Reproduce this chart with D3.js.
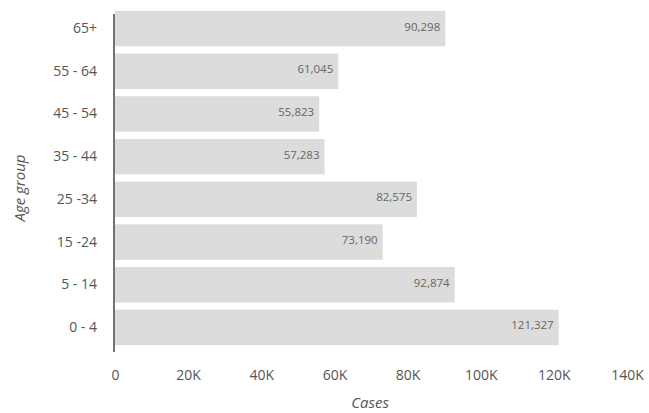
<!DOCTYPE html>
<html>
<head>
<meta charset="utf-8">
<script src="https://cdn.jsdelivr.net/npm/d3@7"></script>
<style>
  body { margin: 0; background: #fff; }
  text { font-family: "Open Sans", "Lato", sans-serif; fill: #555; }
</style>
</head>
<body>
<div id="chart-area"></div>
<script>
// --- Data ---
var ageGroups = ["65+", "55 - 64", "45 - 54", "35 - 44", "25 -34", "15 -24", "5 - 14", "0 - 4"];
var cases = [90298, 61045, 55823, 57283, 82575, 73190, 92874, 121327];
var xTicks = [0, 20000, 40000, 60000, 80000, 100000, 120000, 140000];

var data = ageGroups.map((g, i) => { return {group: g, cases: cases[i]}; });

// --- Canvas ---
var canvasWidth = 649;
var canvasHeight = 413;
var margins = {top: 10, bottom: 67, left: 115, right: 22};
var graphWidth = canvasWidth - margins.left - margins.right;
var graphHeight = canvasHeight - margins.top - margins.bottom;

var canvas = d3.select("#chart-area").append("svg")
	.attr("width", canvasWidth)
	.attr("height", canvasHeight);

var graph = canvas.append("g")
	.attr("transform", "translate(" + margins.left + "," + margins.top + ")");

// --- Scales ---
var xScale = d3.scaleLinear()
	.domain([0, 140000])
	.range([0, graphWidth]);

var yScale = d3.scaleBand()
	.domain(ageGroups)
	.range([0, graphHeight])
	.paddingInner(0.17)
	.paddingOuter(0.02);

// --- Bars ---
graph.selectAll("rect.bar").data(data).enter()
	.append("rect")
	.attr("class", "bar")
	.attr("x", 0)
	.attr("y", (d) => { return yScale(d.group); })
	.attr("width", (d) => { return xScale(d.cases); })
	.attr("height", yScale.bandwidth())
	.attr("fill", "#dcdcdc");

graph.selectAll("text.value").data(data).enter()
	.append("text")
	.attr("class", "value")
	.attr("x", (d) => { return xScale(d.cases) - 5; })
	.attr("y", (d) => { return yScale(d.group) + yScale.bandwidth() / 2 - 2; })
	.attr("dy", "0.35em")
	.attr("text-anchor", "end")
	.attr("font-size", "11.5px")
	.style("fill", "#666")
	.text((d) => { return d3.format(",")(d.cases); });

// --- Axes ---
var yAxisGroup = graph.append("g")
	.attr("transform", "translate(-1,0)")
	.call(d3.axisLeft(yScale).tickSize(0).tickPadding(17));
yAxisGroup.select(".domain")
	.attr("d", "M0,4V" + (graphHeight + 6))
	.attr("stroke", "#444")
	.attr("stroke-width", 1.5);
yAxisGroup.selectAll("text").attr("font-size", "14px");

var xAxisGroup = graph.append("g")
	.attr("transform", "translate(0," + graphHeight + ")")
	.call(d3.axisBottom(xScale)
		.tickValues(xTicks)
		.tickSize(0)
		.tickPadding(24)
		.tickFormat((d) => { return d === 0 ? "0" : (d / 1000) + "K"; }));
xAxisGroup.select(".domain").remove();
xAxisGroup.selectAll("text").attr("font-size", "14px");

// --- Labels ---
canvas.append("text")
	.text("Cases")
	.attr("x", margins.left + graphWidth / 2 - 1)
	.attr("y", canvasHeight - 5)
	.attr("text-anchor", "middle")
	.attr("font-size", "15px")
	.attr("font-style", "italic");

canvas.append("text")
	.text("Age group")
	.attr("transform", "translate(25," + (margins.top + graphHeight / 2 + 10) + ") rotate(-90)")
	.attr("text-anchor", "middle")
	.attr("font-size", "15px")
	.attr("font-style", "italic");
</script>
</body>
</html>
